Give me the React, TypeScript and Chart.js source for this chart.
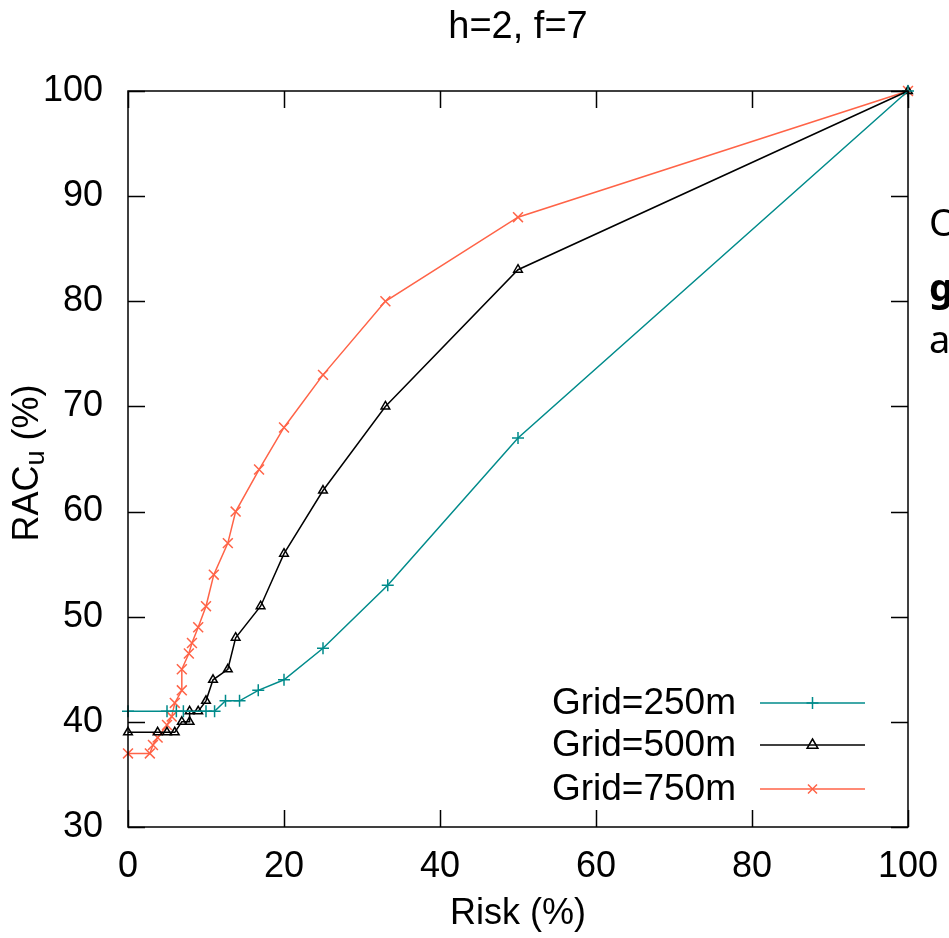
import React, { useEffect, useRef } from "react";
import { Chart, registerables } from "chart.js";

Chart.register(...registerables);

const chartTitle = "h=2, f=7";
const xAxisTitle = "Risk (%)";
const yAxisMain = "RAC";
const yAxisSub = "u";
const yAxisRest = " (%)";

const xMin = 0;
const xMax = 100;
const xStep = 20;
const yMin = 30;
const yMax = 100;
const yStep = 10;

const seriesNames = ["Grid=250m", "Grid=500m", "Grid=750m"];
const seriesColors = ["#008b8b", "#000000", "#ff6347"];

const risk250 = [0, 5, 6.2, 7.1, 10, 11.1, 12.5, 14.3, 16.7, 20, 25, 33.3, 50, 100];
const rac250 = [41, 41, 41, 41, 41, 41, 42, 42, 43, 44, 47, 53, 67, 100];

const risk500 = [0, 3.8, 5, 6, 6.9, 7.9, 7.9, 9, 10, 10.9, 12.8, 13.8, 17, 20, 25, 33, 50, 100];
const rac500 = [39, 39, 39, 39, 40, 40, 41, 41, 42, 44, 45, 48, 51, 56, 62, 70, 83, 100];

const risk750 = [0, 2.8, 3.2, 3.8, 5, 5.6, 6, 6.9, 6.9, 7.8, 8.2, 9, 10, 11, 12.8, 13.8, 16.8, 20, 25, 33, 50, 100];
const rac750 = [37, 37, 37.8, 38.5, 39.7, 40.5, 41.8, 43, 45, 46.5, 47.5, 49, 51, 54, 57, 60, 64, 68, 73, 80, 88, 100];

const FONT = "'Liberation Sans', Arial, sans-serif";
const FS = 36;

function toPoints(xs: number[], ys: number[]) {
  return xs.map((x, i) => ({ x, y: ys[i] }));
}

function drawMarker(ctx: CanvasRenderingContext2D, kind: string, x: number, y: number, r: number) {
  ctx.beginPath();
  if (kind === "cross") {
    ctx.moveTo(x - r, y); ctx.lineTo(x + r, y);
    ctx.moveTo(x, y - r); ctx.lineTo(x, y + r);
  } else if (kind === "crossRot") {
    const d = r * 0.75;
    ctx.moveTo(x - d, y - d); ctx.lineTo(x + d, y + d);
    ctx.moveTo(x - d, y + d); ctx.lineTo(x + d, y - d);
  } else {
    ctx.moveTo(x, y - r);
    ctx.lineTo(x + r * 0.9, y + r * 0.55);
    ctx.lineTo(x - r * 0.9, y + r * 0.55);
    ctx.closePath();
  }
  ctx.stroke();
}

const gnuplotPlugin = {
  id: "gnuplotFrame",
  afterDraw(chart: any) {
    const { ctx, chartArea: a, scales } = chart;
    ctx.save();
    ctx.strokeStyle = "#000";
    ctx.lineWidth = 1.5;
    ctx.strokeRect(a.left, a.top, a.right - a.left, a.bottom - a.top);
    const L = 17;
    ctx.beginPath();
    scales.x.ticks.forEach((t: any) => {
      const px = Math.round(scales.x.getPixelForValue(t.value)) + 0.5;
      ctx.moveTo(px, a.bottom); ctx.lineTo(px, a.bottom - L);
      ctx.moveTo(px, a.top); ctx.lineTo(px, a.top + L);
    });
    scales.y.ticks.forEach((t: any) => {
      const py = Math.round(scales.y.getPixelForValue(t.value)) + 0.5;
      ctx.moveTo(a.left, py); ctx.lineTo(a.left + L, py);
      ctx.moveTo(a.right, py); ctx.lineTo(a.right - L, py);
    });
    ctx.stroke();

    // y-axis title with subscript
    ctx.save();
    ctx.fillStyle = "#000";
    ctx.translate(28, (a.top + a.bottom) / 2 + 4);
    ctx.rotate(-Math.PI / 2);
    ctx.textBaseline = "middle";
    ctx.font = `${FS}px ${FONT}`;
    const w1 = ctx.measureText(yAxisMain).width;
    const w3 = ctx.measureText(yAxisRest).width;
    ctx.font = `${FS * 0.75}px ${FONT}`;
    const w2 = ctx.measureText(yAxisSub).width;
    const total = w1 + w2 + w3;
    let cx = -total / 2;
    ctx.font = `${FS}px ${FONT}`;
    ctx.textAlign = "left";
    ctx.fillText(yAxisMain, cx, 0);
    cx += w1;
    ctx.font = `${FS * 0.75}px ${FONT}`;
    ctx.fillText(yAxisSub, cx, 9);
    cx += w2;
    ctx.font = `${FS}px ${FONT}`;
    ctx.fillText(yAxisRest, cx, 0);
    ctx.restore();

    // legend (gnuplot style, text then sample)
    const kinds = ["cross", "triangle", "crossRot"];
    const rowY = [a.bottom - 124, a.bottom - 82, a.bottom - 38];
    const textRight = a.right - 172;
    const lineL = a.right - 148;
    const lineR = a.right - 43;
    ctx.font = `37px ${FONT}`;
    ctx.textAlign = "right";
    ctx.textBaseline = "middle";
    seriesNames.forEach((name, i) => {
      const y = rowY[i];
      ctx.fillStyle = "#000";
      ctx.fillText(name, textRight, y + 1);
      ctx.strokeStyle = seriesColors[i];
      ctx.lineWidth = 1.5;
      ctx.beginPath();
      ctx.moveTo(lineL, y); ctx.lineTo(lineR, y);
      ctx.stroke();
      drawMarker(ctx, kinds[i], (lineL + lineR) / 2, y, 6);
    });
    ctx.restore();
  },
};

export default function App() {
  const canvasRef = useRef<HTMLCanvasElement | null>(null);

  useEffect(() => {
    const canvas = canvasRef.current;
    if (!canvas) return;
    const mk = (i: number, xs: number[], ys: number[], style: string, r: number) => ({
      label: seriesNames[i],
      data: toPoints(xs, ys),
      borderColor: seriesColors[i],
      backgroundColor: "rgba(0,0,0,0)",
      pointBorderColor: seriesColors[i],
      pointBackgroundColor: "rgba(0,0,0,0)",
      borderWidth: 1.5,
      pointBorderWidth: 1.5,
      pointStyle: style,
      pointRadius: r,
      tension: 0,
      clip: false,
    });
    const chart = new Chart(canvas, {
      type: "line",
      data: {
        datasets: [
          mk(0, risk250, rac250, "cross", 6),
          mk(1, risk500, rac500, "triangle", 5),
          mk(2, risk750, rac750, "crossRot", 7),
        ],
      },
      options: {
        animation: false,
        responsive: false,
        devicePixelRatio: 1,
        layout: { padding: { left: 0, right: 41, top: 0, bottom: 0 } },
        plugins: {
          legend: { display: false },
          tooltip: { enabled: false },
          title: {
            display: true,
            text: chartTitle,
            color: "#000",
            fullSize: false,
            font: { family: FONT, size: 38, weight: "normal", lineHeight: 1.2 },
            padding: { top: 5, bottom: 40.4 },
          },
        },
        scales: {
          x: {
            type: "linear",
            min: xMin,
            max: xMax,
            afterFit: (s: any) => { s.height = 111; s.paddingLeft = 0; s.paddingRight = 0; },
            ticks: {
              stepSize: xStep,
              color: "#000",
              padding: 18,
              font: { family: FONT, size: FS },
              maxRotation: 0,
            },
            grid: { display: false, drawTicks: false },
            border: { display: false },
            title: {
              display: true,
              text: xAxisTitle,
              color: "#000",
              font: { family: FONT, size: FS },
              padding: { top: 0, bottom: 2 },
            },
          },
          y: {
            type: "linear",
            min: yMin,
            max: yMax,
            afterFit: (s: any) => { s.width = 128; s.paddingTop = 0; s.paddingBottom = 0; },
            ticks: {
              stepSize: yStep,
              color: "#000",
              padding: 25,
              font: { family: FONT, size: FS },
            },
            grid: { display: false, drawTicks: false },
            border: { display: false },
          },
        },
      },
      plugins: [gnuplotPlugin],
    } as any);
    return () => chart.destroy();
  }, []);

  const sideText: React.CSSProperties = {
    position: "absolute",
    left: 929,
    fontFamily: "'Noto Sans', sans-serif",
    fontSize: 38,
    lineHeight: "38px",
    color: "#000",
    whiteSpace: "nowrap",
  };

  return (
    <div style={{ position: "absolute", left: 0, top: 0, width: 949, height: 938, overflow: "hidden", background: "#fff" }}>
      <canvas ref={canvasRef} width={949} height={938} style={{ position: "absolute", left: 0, top: 0 }} />
      <div style={{ ...sideText, top: 202 }}>O</div>
      <div style={{ ...sideText, top: 267, fontWeight: "bold" }}>g</div>
      <div style={{ ...sideText, top: 319 }}>a</div>
    </div>
  );
}
